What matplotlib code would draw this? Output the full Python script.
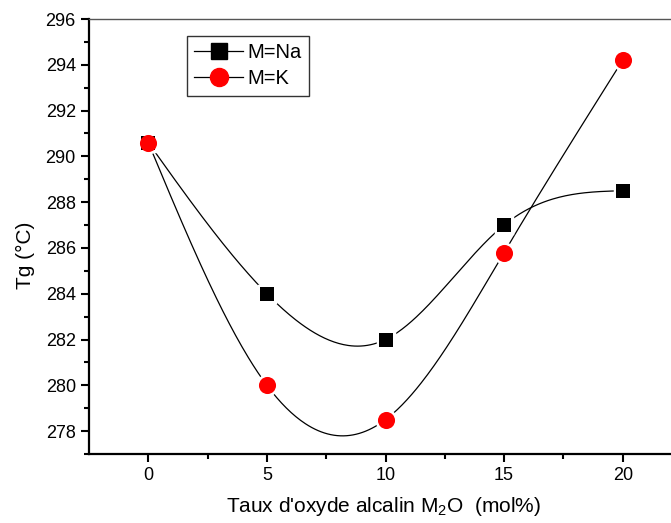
import numpy as np
import matplotlib
matplotlib.use("Agg")
import matplotlib.pyplot as plt
from matplotlib.lines import Line2D

x = [0, 5, 10, 15, 20]
tg_na = [290.6, 284.0, 282.0, 287.0, 288.5]
tg_k = [290.6, 280.0, 278.5, 285.8, 294.2]

plt.rcParams['font.family'] = ['Liberation Sans', 'DejaVu Sans']
plt.rcParams['mathtext.fontset'] = 'custom'
plt.rcParams['mathtext.rm'] = 'Liberation Sans'
plt.rcParams['mathtext.it'] = 'Liberation Sans'


def natural_spline(xs, ys, n=300):
    xs = np.asarray(xs, float); ys = np.asarray(ys, float)
    m = len(xs)
    h = np.diff(xs)
    A = np.zeros((m, m)); b = np.zeros(m)
    A[0, 0] = 1; A[-1, -1] = 1
    for i in range(1, m - 1):
        A[i, i - 1] = h[i - 1]
        A[i, i] = 2 * (h[i - 1] + h[i])
        A[i, i + 1] = h[i]
        b[i] = 3 * ((ys[i + 1] - ys[i]) / h[i] - (ys[i] - ys[i - 1]) / h[i - 1])
    c = np.linalg.solve(A, b)
    xx = np.linspace(xs[0], xs[-1], n)
    yy = np.empty_like(xx)
    for k, xv in enumerate(xx):
        i = min(np.searchsorted(xs, xv, side='right') - 1, m - 2)
        dx = xv - xs[i]
        bi = (ys[i + 1] - ys[i]) / h[i] - h[i] * (2 * c[i] + c[i + 1]) / 3
        di = (c[i + 1] - c[i]) / (3 * h[i])
        yy[k] = ys[i] + bi * dx + c[i] * dx ** 2 + di * dx ** 3
    return xx, yy


fig = plt.figure(figsize=(6.71, 5.23), dpi=100)
ax = fig.add_axes([89 / 671, 1 - 454 / 523, 593 / 671, 435 / 523])

for ys, mk, col, ms in [(tg_na, 's', 'black', 11.5), (tg_k, 'o', 'red', 13.5)]:
    xx, yy = natural_spline(x, ys)
    ax.plot(xx, yy, color='black', lw=0.9, zorder=2)
    ax.plot(x, ys, linestyle='none', marker=mk, color=col, ms=ms,
            markeredgecolor='white', markeredgewidth=2.5, zorder=3)
    ax.plot(x, ys, linestyle='none', marker=mk, color=col, ms=ms - 1.2,
            markeredgewidth=0, zorder=4)

handles = [Line2D([], [], color='black', lw=0.9, marker='s', mfc='black', mec='black', ms=11),
           Line2D([], [], color='black', lw=0.9, marker='o', mfc='red', mec='red', ms=13)]
leg = ax.legend(handles, ['M=Na', 'M=K'], loc='upper left', bbox_to_anchor=(0.166, 0.96),
                fontsize=14.5, frameon=True, fancybox=False, edgecolor='black',
                handlelength=2.4, handletextpad=0.25, borderpad=0.35, labelspacing=0.35,
                borderaxespad=0)
leg.get_frame().set_linewidth(1.0)

ax.set_xlim(-2.5, 22.5)
ax.set_ylim(277, 296)
ax.set_xticks(x)
ax.set_xticks(np.arange(2.5, 22.5, 5), minor=True)
ax.set_yticks(np.arange(278, 297, 2))
ax.set_yticks(np.arange(277, 297, 1), minor=True)
ax.tick_params(axis='both', which='major', direction='out', length=6, width=1.5, labelsize=13)
ax.tick_params(axis='both', which='minor', direction='out', length=3.5, width=1.5)
ax.tick_params(top=False, right=False, which='both')
for s in ['left', 'bottom']:
    ax.spines[s].set_linewidth(1.6)
ax.spines['top'].set_linewidth(1.0)
ax.spines['top'].set_color('#555555')
ax.spines['right'].set_visible(False)

ax.set_xlabel("Taux d'oxyde alcalin M$_2$O  (mol%)", fontsize=15)
ax.xaxis.set_label_coords((384 - 89) / 593, -(512 - 454) / 435, transform=ax.transAxes)
ax.xaxis.label.set_va('baseline')
ax.set_ylabel("Tg (°C)", fontsize=15)
ax.yaxis.set_label_coords(-(89 - 35) / 593, (454 - 255) / 435, transform=ax.transAxes)

fig.savefig("out.png", dpi=100)
